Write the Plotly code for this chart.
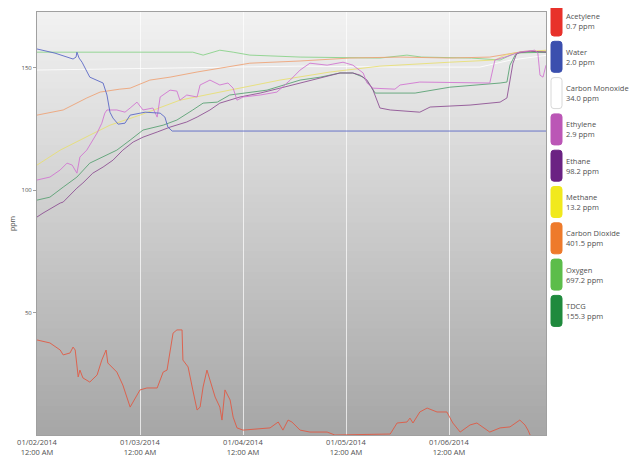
import pandas as pd
import plotly.graph_objects as go

START = pd.Timestamp("2014-01-02 00:00")
END_HOURS = 118.6

# ---- data: hours since 01/02/2014 12:00 AM, values in ppm (chart scale) ----
acetylene_hours = [0, 3.0, 5.4, 6.1, 7.7, 8.4, 8.9, 9.6, 10.0, 10.7, 12.3, 14.0, 15.1, 16.1, 16.5,
                   18.6, 20.0, 21.7, 24.0, 25.6, 28.0, 29.4, 30.3, 31.0, 31.7, 32.6, 33.8, 34.0,
                   35.2, 36.3, 37.3, 38.0, 38.7, 39.6, 40.3, 41.5, 42.6, 43.1, 43.8, 45.0, 45.7,
                   46.6, 48.0, 54.3, 56.2, 57.3, 58.5, 59.4, 61.3, 63.6, 67.6, 69.4, 82.3, 83.9,
                   86.2, 86.9, 87.6, 89.2, 90.9, 93.2, 95.5, 96.9, 98.6, 100.9, 102.5, 105.5,
                   107.9, 110.2, 112.5, 113.7, 114.4, 114.9]
acetylene_ppm = [38.8, 37.6, 34.7, 32.7, 33.5, 35.9, 34.7, 23.7, 26.5, 23.3, 21.6, 24.5, 30.6, 34.7, 29.4,
                 25.7, 20.4, 11.4, 18.4, 19.2, 19.2, 25.7, 26.5, 34.7, 41.6, 42.9, 42.9, 30.6,
                 27.8, 18.4, 10.2, 11.4, 19.6, 26.5, 22.4, 15.5, 11.4, 6.1, 18.4, 14.3, 7.3,
                 2.9, 2.0, 2.9, 5.3, 2.0, 6.1, 5.3, 2.0, 1.2, 1.2, 0.0, 0.4, 4.9,
                 5.3, 6.9, 4.9, 9.4, 11.0, 9.4, 9.4, 4.9, 1.2, 4.1, 4.9, 1.2,
                 2.9, 3.3, 6.1, 4.1, 2.0, 0.0]

water_hours = [0, 4.2, 8.4, 9.1, 9.3, 9.8, 10.5, 12.3, 15.4, 16.3, 17.0, 17.7, 18.9, 20.5, 21.7,
               25.2, 28.7, 29.8, 30.5, 31.5, 118.6]
water_ppm = [157.6, 155.9, 153.5, 154.3, 156.3, 153.9, 152.2, 146.1, 143.7, 138.8, 131.8, 129.4,
             126.9, 127.3, 130.6, 131.8, 131.4, 129.8, 125.7, 124.1, 124.1]

co_hours = [0, 26.3, 61.3, 84.6, 103.2, 110.2, 118.6]
co_ppm = [149.0, 149.8, 150.6, 150.2, 150.2, 153.0, 155.0]

ethylene_hours = [0, 3.0, 5.4, 7.0, 8.2, 9.3, 10.0, 11.6, 14.0, 15.1, 15.8, 16.3, 18.6, 20.5, 21.7,
                  23.3, 24.7, 27.0, 28.0, 28.7, 31.0, 32.6, 33.3, 34.9, 37.3, 38.0, 40.3, 42.6,
                  44.5, 45.7, 46.6, 48.0, 52.0, 55.9, 59.0, 61.3, 63.6, 67.6, 71.3, 73.6, 76.0,
                  76.9, 78.3, 83.4, 84.6, 89.2, 105.5, 106.7, 109.0, 112.5, 116.0, 116.7, 117.2,
                  117.9, 118.6]
ethylene_ppm = [104.1, 105.3, 108.2, 111.0, 110.2, 106.9, 113.5, 116.3, 123.3, 127.3, 131.4, 132.7,
                132.7, 131.8, 133.5, 135.9, 132.7, 133.5, 129.8, 138.0, 140.8, 140.4, 136.7,
                138.8, 138.0, 142.9, 144.9, 142.9, 143.7, 141.6, 136.7, 138.0, 138.8, 140.0,
                144.9, 149.0, 151.8, 151.0, 152.2, 151.0, 147.8, 143.7, 141.6, 141.2, 142.9,
                144.1, 143.7, 153.1, 154.3, 156.3, 157.1, 155.9, 146.9, 146.1, 151.0]

ethane_hours = [0, 1.4, 5.4, 6.1, 9.3, 10.7, 13.0, 15.4, 17.7, 20.0, 22.4, 24.7, 28.0, 31.0, 34.9,
                37.3, 40.3, 42.6, 47.3, 52.0, 56.6, 61.3, 66.0, 70.6, 73.6, 75.3, 76.9, 78.3,
                79.9, 82.3, 89.2, 91.6, 100.9, 107.9, 109.5, 110.9, 111.8, 114.9, 118.6]
ethane_ppm = [89.0, 90.6, 94.7, 95.1, 100.8, 102.9, 106.9, 109.4, 112.2, 116.3, 119.6, 121.6,
              123.7, 125.7, 127.8, 129.8, 132.7, 135.5, 138.0, 139.6, 141.6, 143.7, 145.7,
              147.8, 147.8, 146.9, 144.9, 140.8, 133.5, 132.7, 131.8, 133.9, 134.7, 135.9,
              137.6, 151.8, 155.9, 156.7, 156.3]

methane_hours = [0, 5.4, 12.3, 17.0, 24.0, 33.3, 44.9, 56.6, 68.3, 79.9, 96.2, 106.7, 109.0,
                 112.5, 118.6]
methane_ppm = [110.2, 116.3, 122.4, 126.5, 130.6, 136.7, 140.8, 144.9, 148.2, 150.6, 152.2,
               153.1, 155.1, 156.3, 157.1]

co2_hours = [0, 6.1, 11.6, 14.7, 19.3, 21.7, 26.3, 31.0, 37.3, 49.6, 61.3, 72.9, 84.6, 96.2,
             105.5, 110.2, 113.7, 118.6]
co2_ppm = [130.6, 132.7, 137.6, 140.0, 141.2, 141.6, 144.9, 146.1, 148.2, 151.8, 152.7, 153.9,
           154.3, 153.9, 154.3, 155.5, 156.7, 156.7]

oxygen_hours = [0, 10.0, 26.3, 36.3, 38.7, 42.6, 45.7, 49.6, 61.3, 79.9, 86.2, 89.6, 101.2,
                107.9, 111.4, 118.6]
oxygen_ppm = [156.3, 156.3, 156.3, 156.3, 155.1, 157.1, 156.3, 155.1, 154.3, 153.9, 155.1,
              154.3, 153.9, 153.1, 155.9, 156.3]

tdcg_hours = [0, 3.0, 6.1, 9.3, 12.3, 15.4, 18.6, 21.7, 24.7, 29.4, 32.6, 36.3, 38.7, 42.0,
              44.9, 53.6, 61.3, 66.0, 70.6, 73.6, 76.0, 77.6, 78.8, 88.1, 96.2, 107.9, 109.5,
              110.2, 111.4, 112.5, 118.6]
tdcg_ppm = [95.9, 97.1, 101.2, 105.3, 111.0, 113.5, 116.3, 120.4, 124.5, 126.5, 128.6, 132.7,
            135.5, 135.9, 138.8, 140.8, 144.9, 146.1, 147.8, 147.8, 146.1, 142.9, 139.6,
            139.6, 142.0, 143.7, 144.1, 151.0, 155.1, 156.3, 156.3]

legend_names = ["Acetylene", "Water", "Carbon Monoxide", "Ethylene", "Ethane", "Methane",
                "Carbon Dioxide", "Oxygen", "TDCG"]
legend_values = ["0.7 ppm", "2.0 ppm", "34.0 ppm", "2.9 ppm", "98.2 ppm", "13.2 ppm",
                 "401.5 ppm", "697.2 ppm", "155.3 ppm"]
swatch_colors = ["#e8312a", "#3b4fae", "#ffffff", "#bb56b6", "#6b2283", "#f1e91d",
                 "#ee7a2b", "#5cbd4a", "#1f8a3d"]
line_colors = ["#e4563f", "#5563c6", "#ffffff", "#d272d2", "#8c4c92", "#e9e070",
               "#f0a274", "#86d286", "#55a070"]

series = [
    ("Acetylene", acetylene_hours, acetylene_ppm),
    ("Water", water_hours, water_ppm),
    ("Carbon Monoxide", co_hours, co_ppm),
    ("Ethylene", ethylene_hours, ethylene_ppm),
    ("Ethane", ethane_hours, ethane_ppm),
    ("Methane", methane_hours, methane_ppm),
    ("Carbon Dioxide", co2_hours, co2_ppm),
    ("Oxygen", oxygen_hours, oxygen_ppm),
    ("TDCG", tdcg_hours, tdcg_ppm),
]


def iso(hours_list):
    return [(START + pd.Timedelta(hours=h)).strftime("%Y-%m-%d %H:%M:%S") for h in hours_list]


fig = go.Figure()

draw_order = [2, 7, 6, 5, 8, 4, 3, 1, 0]
for i in draw_order:
    name, hrs, vals = series[i]
    fig.add_trace(go.Scatter(x=iso(hrs), y=vals, mode="lines", name=name,
                             line=dict(color=line_colors[i], width=1),
                             opacity=0.85, showlegend=False, cliponaxis=True))

# gradient background of the plot area
shapes = []
n_bands = 60
top_c, bot_c = (242, 242, 242), (166, 166, 166)
for k in range(n_bands):
    f = (k + 0.5) / n_bands
    c = tuple(int(round(top_c[j] + (bot_c[j] - top_c[j]) * f)) for j in range(3))
    shapes.append(dict(type="rect", xref="x domain", yref="y domain", x0=0, x1=1,
                       y0=1 - (k + 1) / n_bands, y1=min(1, 1 - k / n_bands + 0.002),
                       fillcolor="rgb(%d,%d,%d)" % c, line=dict(width=0), layer="below"))


# custom legend: rounded swatches + two-line labels
def rounded(x0, x1, y0, y1, r):
    return (f"M{x0+r},{y0} L{x1-r},{y0} Q{x1},{y0} {x1},{y0+r} L{x1},{y1-r} "
            f"Q{x1},{y1} {x1-r},{y1} L{x0+r},{y1} Q{x0},{y1} {x0},{y1-r} "
            f"L{x0},{y0+r} Q{x0},{y0} {x0+r},{y0} Z")


annotations = []
step = 36.3
for i, (nm, val) in enumerate(zip(legend_names, legend_values)):
    top = 7 - step * i
    bot = top - 31
    border = "#d8d8d8" if swatch_colors[i] == "#ffffff" else swatch_colors[i]
    shapes.append(dict(type="path", xref="paper", yref="paper", xsizemode="pixel",
                       ysizemode="pixel", xanchor=1, yanchor=1,
                       path=rounded(5, 16, bot, top, 3),
                       fillcolor=swatch_colors[i], line=dict(color=border, width=1)))
    annotations.append(dict(xref="paper", yref="paper", x=1, y=1, xshift=18,
                            yshift=(top + bot) / 2, xanchor="left", yanchor="middle",
                            align="left", showarrow=False,
                            text=f"{nm}<br>{val}",
                            font=dict(size=7.5, color="#505050")))

# the page adds an 8px body margin, so the figure is sized to fit the window
fig.update_layout(
    width=630, height=451,
    margin=dict(l=29, r=92, t=4, b=24, pad=0),
    paper_bgcolor="white", plot_bgcolor="#d0d0d0",
    font=dict(family="Open Sans, sans-serif", color="#505050"),
    shapes=shapes, annotations=annotations,
    showlegend=False,
)
fig.update_xaxes(
    type="date",
    range=[iso([0])[0], iso([END_HOURS])[0]],
    autorange=False,
    tick0="2014-01-02", dtick=86400000, tickformat="%m/%d/%Y<br>%I:%M %p",
    tickfont=dict(size=7.5, color="#505050"),
    showgrid=True, gridcolor="rgba(255,255,255,0.7)", gridwidth=1,
    showline=True, linecolor="#a0a0a0", linewidth=1, mirror=True,
    ticks="", zeroline=False, automargin=False,
)
fig.update_yaxes(
    range=[0, 172.7], autorange=False,
    tickvals=[50, 100, 150], ticktext=["50", "100", "150"],
    tickfont=dict(size=6, color="#505050"),
    ticks="outside", ticklen=3, tickcolor="#a0a0a0",
    showgrid=False, zeroline=False,
    showline=True, linecolor="#a0a0a0", linewidth=1, mirror=True,
    title=dict(text="ppm", font=dict(size=7, color="#505050"), standoff=6),
    automargin=False,
)

fig.write_html("out.html")
